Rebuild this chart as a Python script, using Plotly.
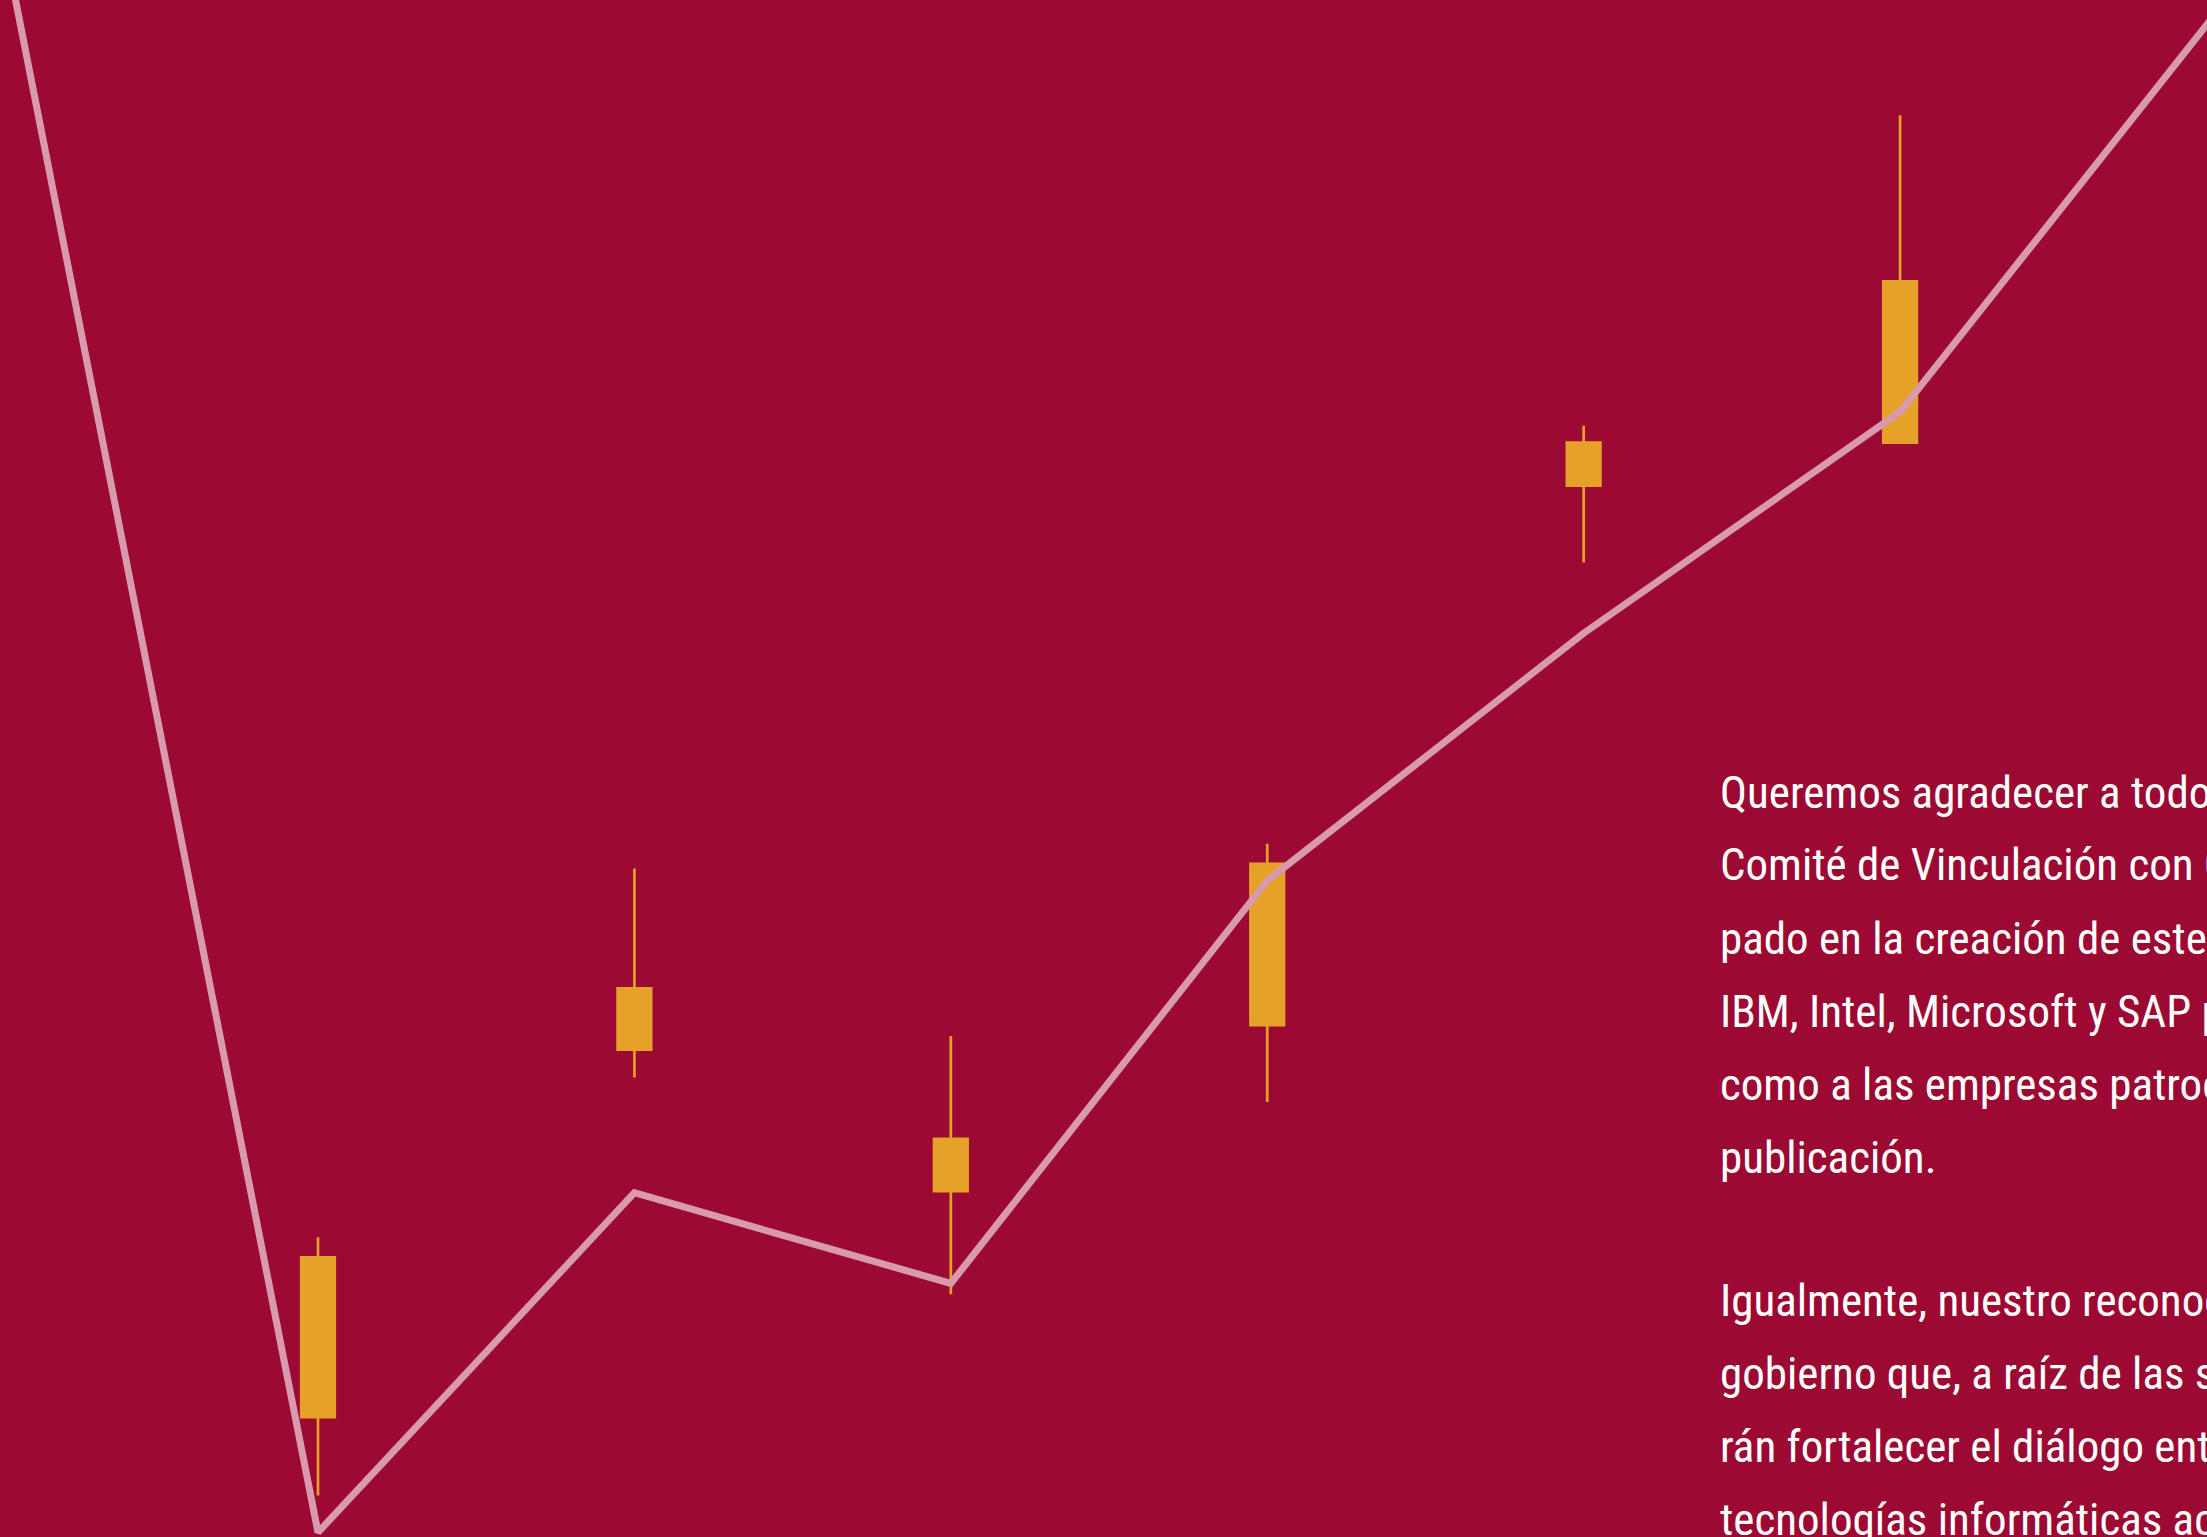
import plotly.graph_objects as go

# ---- data ----
line_x = [0, 1, 2, 3, 4, 5, 6, 7]
line_y = [104.6, 0.3, 22.4, 16.5, 42.7, 58.8, 73.2, 99.2]

candle_x = [1, 2, 3, 4, 5, 6]
candle_open = [7.8, 31.7, 22.5, 33.3, 68.4, 71.2]
candle_close = [18.2, 35.7, 25.9, 43.8, 71.2, 81.7]
candle_high = [19.5, 43.5, 32.6, 45.1, 72.3, 92.5]
candle_low = [2.7, 29.9, 15.8, 28.3, 63.4, 71.2]

text_para1 = [
    "Queremos agradecer a todos los miembros del",
    "Comité de Vinculación con Gobierno que han partici-",
    "pado en la creación de este documento, en especial a",
    "IBM, Intel, Microsoft y SAP por su apoyo, así",
    "como a las empresas patrocinadoras de esta",
    "publicación.",
]
text_para2 = [
    "Igualmente, nuestro reconocimiento a los funcionarios de",
    "gobierno que, a raíz de las sugerencias aquí expuestas, logra-",
    "rán fortalecer el diálogo entre la industria y el gobierno",
    "tecnologías informáticas aceleradas en beneficio de México.",
]

BG = "#9C0A33"
ORANGE = "#E6A228"
PINK = "rgb(216,154,172)"
W, H = 2207, 1537

fig = go.Figure()
fig.add_trace(go.Scatter(
    x=line_x, y=line_y, mode="lines",
    line=dict(color=PINK, width=7), hoverinfo="skip", showlegend=False,
))
fig.add_trace(go.Candlestick(
    x=candle_x, open=candle_open, close=candle_close,
    high=candle_high, low=candle_low,
    increasing=dict(line=dict(color=ORANGE, width=2.7), fillcolor=ORANGE),
    decreasing=dict(line=dict(color=ORANGE, width=2.7), fillcolor=ORANGE),
    whiskerwidth=0, showlegend=False, hoverinfo="skip",
))

annotations = []
font = dict(family="Roboto Condensed, DejaVu Sans Condensed, sans-serif",
            size=45, color="white")
x_left = 1718 / W
for k, t in enumerate(text_para1):
    base = 812 + 73 * k
    annotations.append(dict(text=t, x=x_left, y=1 - (base - 20) / H,
                            xref="paper", yref="paper", xanchor="left",
                            yanchor="middle", showarrow=False, font=font))
for k, t in enumerate(text_para2):
    base = 1318 + 73 * k
    annotations.append(dict(text=t, x=x_left, y=1 - (base - 18) / H,
                            xref="paper", yref="paper", xanchor="left",
                            yanchor="middle", showarrow=False, font=font))

fig.update_layout(
    width=W, height=H,
    margin=dict(l=0, r=0, t=0, b=0),
    paper_bgcolor=BG, plot_bgcolor=BG,
    boxgap=0.894, boxgroupgap=0,
    xaxis=dict(range=[-0.005, 6.970], visible=False, showgrid=False,
               zeroline=False, rangeslider=dict(visible=False), fixedrange=True),
    yaxis=dict(range=[0, 100], visible=False, showgrid=False,
               zeroline=False, fixedrange=True),
    annotations=annotations,
    showlegend=False,
)

fig.write_html("out.html", config=dict(displayModeBar=False),
               post_script="document.body.style.margin='0';document.body.style.overflow='hidden';")
